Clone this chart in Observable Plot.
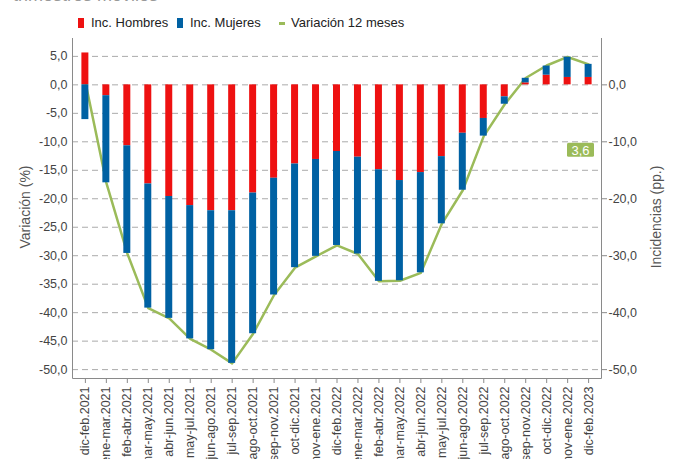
<!DOCTYPE html>
<html><head><meta charset="utf-8">
<script src="https://cdn.jsdelivr.net/npm/d3@7"></script>
<script src="https://cdn.jsdelivr.net/npm/@observablehq/plot@0.6"></script>
<style>
body{margin:0;background:#fff;font-family:"Liberation Sans",Arial,sans-serif;}
#wrap{position:relative;width:678px;height:459px;overflow:hidden;}
#sub{position:absolute;left:13px;top:-14px;font-size:18px;line-height:18px;color:#999;white-space:nowrap;}
.lg{position:absolute;top:15px;font-size:13px;line-height:16px;color:#222;white-space:nowrap;}
.sw{position:absolute;}
.ylab{position:absolute;font-size:14px;color:#555;white-space:nowrap;transform:translate(-50%,-50%) rotate(-90deg);}
#chart{position:absolute;left:0;top:0;}
</style></head>
<body>
<div id="wrap">
  <div id="sub">trimestres móviles</div>
  <div class="sw" style="left:78px;top:18px;width:6px;height:10px;background:#EE1111"></div>
  <div class="lg" style="left:91px">Inc. Hombres</div>
  <div class="sw" style="left:177px;top:18px;width:6px;height:10px;background:#0061A3"></div>
  <div class="lg" style="left:190px">Inc. Mujeres</div>
  <div class="sw" style="left:279px;top:22px;width:6px;height:3px;background:#9BBB59"></div>
  <div class="lg" style="left:291px">Variación 12 meses</div>
  <div id="chart"></div>
  <div class="ylab" style="left:25px;top:207px">Variación (%)</div>
  <div class="ylab" style="left:656px;top:217px">Incidencias (pp.)</div>
</div>
<script>
const periods = ["dic-feb.2021","ene-mar.2021","feb-abr.2021","mar-may.2021","abr-jun.2021","may-jul.2021","jun-ago.2021","jul-sep.2021","ago-oct.2021","sep-nov.2021","oct-dic.2021","nov-ene.2021","dic-feb.2022","ene-mar.2022","feb-abr.2022","mar-may.2022","abr-jun.2022","may-jul.2022","jun-ago.2022","jul-sep.2022","ago-oct.2022","sep-nov.2022","oct-dic.2022","nov-ene.2022","dic-feb.2023"];
const incHombres = [5.6,-1.9,-10.7,-17.4,-19.6,-21.2,-22.1,-22.1,-19.0,-16.4,-13.9,-13.1,-11.7,-12.7,-14.9,-16.8,-15.4,-12.6,-8.5,-5.9,-2.1,0.35,1.7,1.3,1.3];
const incMujeres = [-6.1,-15.3,-18.9,-21.8,-21.4,-23.4,-24.4,-26.8,-24.7,-20.5,-18.2,-17.0,-16.5,-17.0,-19.6,-17.6,-17.6,-11.8,-10.0,-3.1,-1.3,0.8,1.6,3.55,2.3];
const variacion12 = [0.5,-17.2,-29.6,-39.2,-41.0,-44.6,-46.5,-48.9,-43.7,-36.9,-32.1,-30.1,-28.2,-29.7,-34.5,-34.4,-33.0,-24.4,-18.5,-9.0,-3.4,1.2,3.4,4.9,3.6];
const seriesNames = ["Inc. Hombres","Inc. Mujeres"];
const seriesColors = ["#EE1111","#0061A3"];
const lineColor = "#9BBB59";
const leftTicks = [5,0,-5,-10,-15,-20,-25,-30,-35,-40,-45,-50];
const rightTicks = [0,-10,-20,-30,-40,-50];
const yDomain = [-51.56, 8.14];
const labelY = -11.5;

const fmt = d => (Math.abs(d) < 1e-9 ? 0 : d).toFixed(1).replace(".", ",");

const bars = [
  ...periods.map((p, i) => ({period: p, sex: seriesNames[0], value: incHombres[i]})),
  ...periods.map((p, i) => ({period: p, sex: seriesNames[1], value: incMujeres[i]}))
];
const line = periods.map((p, i) => ({period: p, value: variacion12[i]}));

const frameLines = (index, scales, values, dims) => {
  const g = d3.create("svg:g");
  const l = dims.marginLeft, r = dims.width - dims.marginRight, t = dims.marginTop, b = dims.height - dims.marginBottom;
  g.append("path").attr("d", `M${l+0.5},${t}V${b+0.5}H${r+0.5}V${t}`).attr("fill", "none").attr("stroke", "#8a8a8a").attr("stroke-width", 1);
  return g.node();
};

const lastLabel = (index, scales, values, dims) => {
  const g = d3.create("svg:g");
  const r = dims.width - dims.marginRight;
  const cy = scales.y(labelY);
  const w = 27, h = 14;
  const cx = r - 7 - w / 2;
  g.append("rect").attr("x", cx - w/2).attr("y", cy - h/2).attr("width", w).attr("height", h).attr("rx", 1.5).attr("fill", lineColor);
  g.append("text").attr("x", cx).attr("y", cy).attr("dy", "0.36em").attr("text-anchor", "middle")
    .attr("fill", "#fff").attr("font-size", 13).text(fmt(variacion12[variacion12.length - 1]));
  return g.node();
};

const chart = Plot.plot({
  width: 678, height: 459,
  marginTop: 38, marginBottom: 81, marginLeft: 72, marginRight: 77,
  style: {fontFamily: "'Liberation Sans', Arial, sans-serif", fontSize: "12.5px", color: "#444", background: "transparent"},
  x: {type: "band", domain: periods, paddingInner: 0.667, paddingOuter: 0.448, round: false, label: null},
  y: {domain: yDomain, label: null},
  color: {domain: seriesNames, range: seriesColors},
  marks: [
    Plot.gridY({ticks: leftTicks, stroke: "#aaa", strokeOpacity: 1, strokeDasharray: "6,4"}),
    Plot.lineY(line, {x: "period", y: "value", stroke: lineColor, strokeWidth: 2.5}),
    Plot.barY(bars, {x: "period", y: "value", fill: "sex"}),
    Plot.axisY({ticks: leftTicks, tickFormat: fmt, tickSize: 0, tickPadding: 5, label: null}),
    Plot.axisY({anchor: "right", ticks: rightTicks, tickFormat: fmt, tickSize: 5, tickPadding: 2, stroke: "#8a8a8a", label: null}),
    Plot.axisX({tickRotate: -90, tickSize: 5, tickPadding: 3, stroke: "#8a8a8a", label: null}),
    frameLines,
    lastLabel
  ]
});
document.getElementById("chart").appendChild(chart);
</script>
</body></html>
